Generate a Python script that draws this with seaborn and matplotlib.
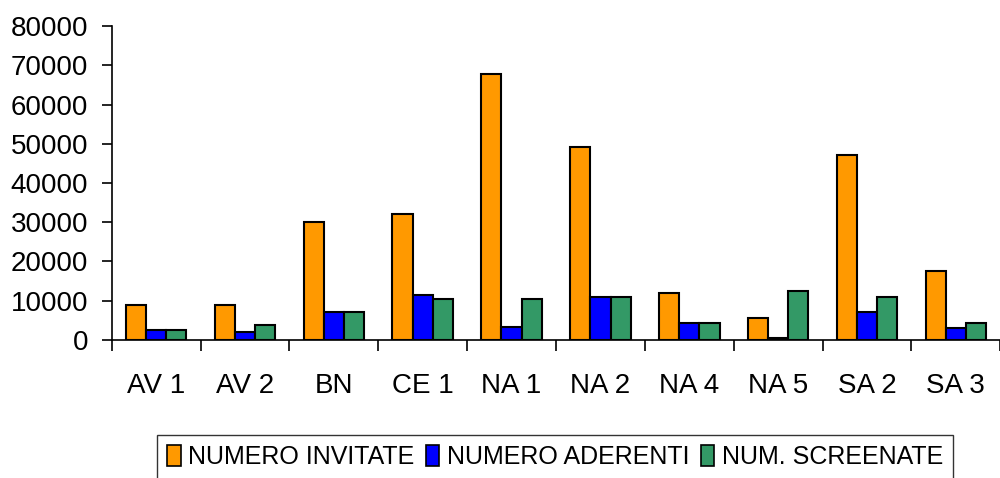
import numpy as np
import pandas as pd
import matplotlib
matplotlib.use("Agg")
import matplotlib.pyplot as plt
from matplotlib import font_manager
import seaborn as sns

# data
distretti = ["AV 1", "AV 2", "BN", "CE 1", "NA 1", "NA 2", "NA 4", "NA 5", "SA 2", "SA 3"]
invitate = [9000, 9000, 30000, 32100, 67900, 49200, 12000, 5500, 47200, 17500]
aderenti = [2400, 1900, 7000, 11500, 3400, 11000, 4400, 600, 7000, 3000]
screenate = [2400, 3900, 7000, 10500, 10500, 11000, 4400, 12500, 11000, 4400]
serie = ["NUMERO INVITATE", "NUMERO ADERENTI", "NUM. SCREENATE"]
colori = ["#FF9900", "#0000FF", "#339966"]

df = pd.DataFrame({
    "distretto": distretti * 3,
    "serie": [serie[0]] * 10 + [serie[1]] * 10 + [serie[2]] * 10,
    "valore": invitate + aderenti + screenate,
})

sns.set_style("white")
plt.rcParams["font.family"] = ["Liberation Sans", "DejaVu Sans"]
plt.rcParams["text.color"] = "black"
plt.rcParams["xtick.color"] = "black"
plt.rcParams["ytick.color"] = "black"

installed = {f.name for f in font_manager.fontManager.ttflist}
legend_font = "Liberation Sans Narrow" if "Liberation Sans Narrow" in installed else "Liberation Sans"

fig = plt.figure(figsize=(10, 4.78), dpi=100)
ax = fig.add_axes([0.1117, 0.289, 0.8886, 0.656])

sns.barplot(data=df, x="distretto", y="valore", hue="serie", hue_order=serie,
            palette=colori, width=0.68, gap=0, edgecolor="black", linewidth=1.5,
            saturation=1, ax=ax)

ax.set_ylim(0, 80000)
ax.set_xlim(-0.5, 9.5)
ax.set_yticks(np.arange(0, 80001, 10000))
ax.set_xlabel("")
ax.set_ylabel("")

for side in ["top", "right"]:
    ax.spines[side].set_visible(False)
for side in ["left", "bottom"]:
    ax.spines[side].set_color("black")
    ax.spines[side].set_linewidth(1.2)

ax.tick_params(axis="y", which="major", direction="out", length=7, width=1.2,
               color="black", labelcolor="black", labelsize=20, pad=10, left=True)
ax.tick_params(axis="x", which="major", length=0, labelsize=20, labelcolor="black", pad=24)
ax.set_xticks(np.arange(-0.5, 9.6, 1), minor=True)
ax.tick_params(axis="x", which="minor", direction="out", length=8, width=1.2,
               color="black", bottom=True)

ax.get_legend().remove()
handles = [plt.Rectangle((0, 0), 1, 1, facecolor=c, edgecolor="black", linewidth=1.2) for c in colori]
leg = fig.legend(handles, serie, loc="upper center", bbox_to_anchor=(0.555, 0.09),
                 ncol=3, frameon=True, fancybox=False, edgecolor="black",
                 handlelength=0.55, handleheight=0.9, handletextpad=0.3,
                 columnspacing=0.45, borderpad=0.4, borderaxespad=0,
                 prop={"family": legend_font, "size": 18})
leg.get_frame().set_linewidth(1.0)

fig.savefig("out.png", dpi=100)
